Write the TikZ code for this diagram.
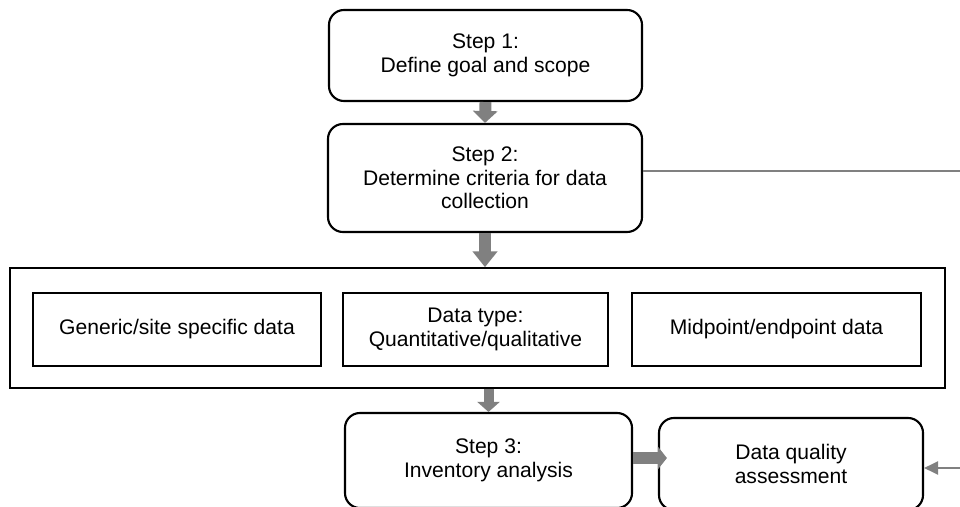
\documentclass[tikz,border=0pt]{standalone}
\usepackage{fontspec}
\setmainfont{Liberation Sans}
\usepackage{tikz}
\usetikzlibrary{arrows.meta, calc}

\begin{document}
\begin{tikzpicture}[x=0.2mm, y=-0.2mm,
  font=\fontsize{12}{13.5}\selectfont,
  stepbox/.style={draw, line width=1.2pt, rounded corners=8.5pt, align=center, inner sep=0pt},
  databox/.style={draw, line width=1.1pt, align=center, inner sep=0pt, minimum height=14.6mm},
  groupbox/.style={draw, line width=0.9pt, inner sep=0pt},
  bigarrow/.style={gray, line width=6.8pt, -{Triangle[width=13.7pt, length=#1]}},
  bigarrow/.default=6.8pt,
  linkline/.style={gray, line width=1pt}]
  \useasboundingbox (0,0) rectangle (960,506);
  \clip (0,0) rectangle (960,506);

  % ---- Steps 1 and 2 ----
  \node[stepbox, minimum width=62.6mm, minimum height=18.2mm] (step1) at (485.5, 55.5)
    {Step 1:\\ Define goal and scope};
  \node[stepbox, minimum width=62.8mm, minimum height=21.6mm] (step2) at (485, 178)
    {Step 2:\\ Determine criteria for data\\ collection};

  % ---- Data collection criteria ----
  \node[groupbox, minimum width=187mm, minimum height=24mm] (criteria) at (477.5, 328) {};
  \node[databox, minimum width=57.6mm] (generic) at (177, 329.5) {Generic/site specific data};
  \node[databox, minimum width=53mm] (datatype) at (475.5, 329.5) {Data type:\\ Quantitative/qualitative};
  \node[databox, minimum width=57.8mm] (midpoint) at (776.5, 329.5) {Midpoint/endpoint data};

  % ---- Step 3 and quality assessment ----
  \node[stepbox, minimum width=57.4mm, minimum height=19mm] (step3) at (488.5, 460.5)
    {Step 3:\\ Inventory analysis};
  \node[stepbox, minimum width=52.8mm, minimum height=18.4mm] (quality) at (791, 464)
    {Data quality\\ assessment};

  % Main flow arrows
  \draw[bigarrow] (step1.south) -- (step2.north);
  \draw[bigarrow=9pt] (step2.south) -- (step2.south |- criteria.north);
  \draw[gray, line width=5.7pt, -{Triangle[width=12.5pt, length=5.7pt]}]
    (step3.north |- criteria.south) -- (step3.north);
  \draw[gray, line width=6.8pt, -{Triangle[width=12.5pt, length=5.1pt]}]
    ($(step3.east)+(0,-2.5)$) -- ($(step3.east -| quality.west)+(9,-2.5)$);

  % Links leaving to the right
  \coordinate (outA) at (960, 171);
  \coordinate (outB) at (960, 468);
  \draw[linkline] (outA -| step2.east) -- (outA);
  \draw[linkline, -{Triangle[width=7.5pt, length=8pt]}] (outB) -- (outB -| quality.east);
\end{tikzpicture}
\end{document}
